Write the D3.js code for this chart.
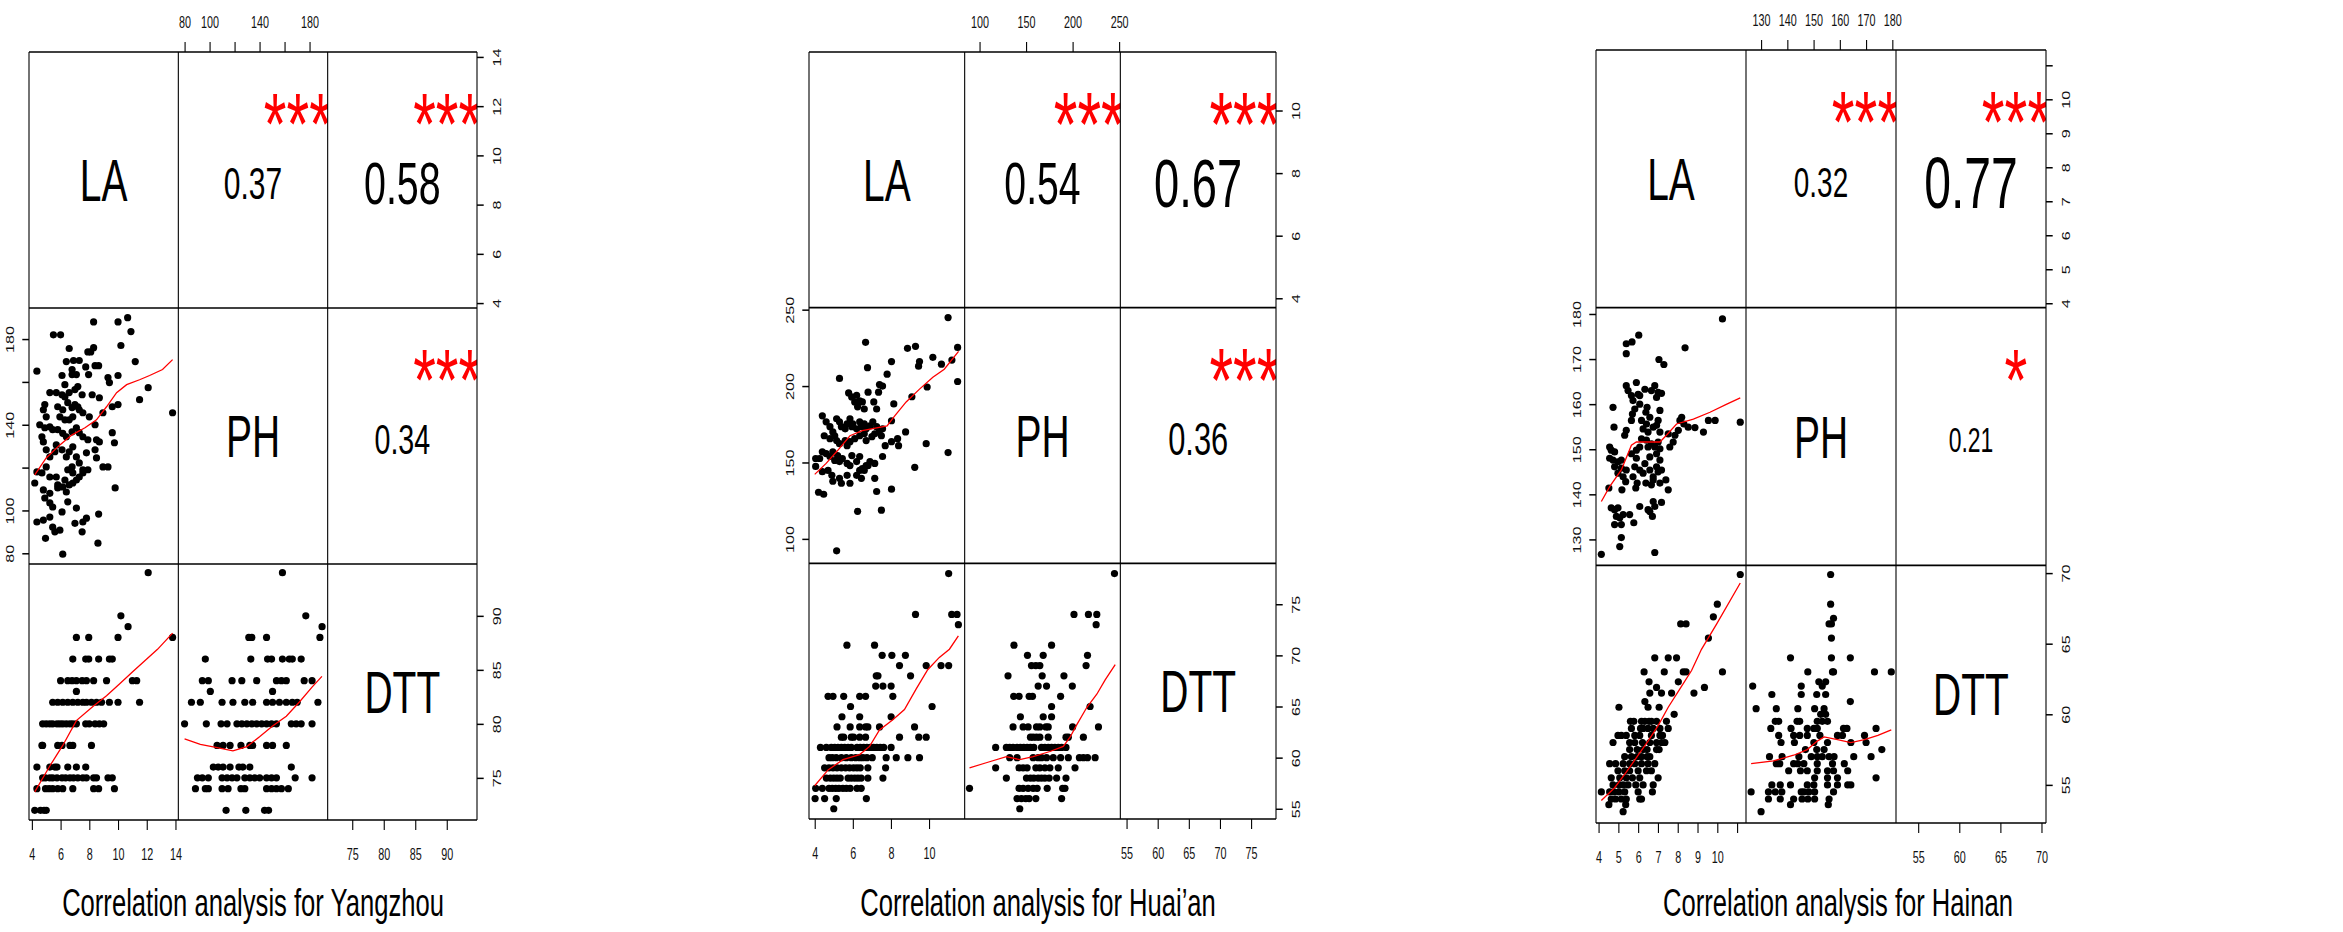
<!DOCTYPE html>
<html>
<head>
<meta charset="utf-8">
<script src="https://cdn.jsdelivr.net/npm/d3@7"></script>
<style>
  body { margin: 0; background: #fff; }
  svg { display: block; }
</style>
</head>
<body>
<svg id="chart" width="2343" height="932"></svg>
<script>
const varNames = ['LA', 'PH', 'DTT'];
const siteNames = ['Yangzhou', 'Huai\u2019an', 'Hainan'];

// axis limits per variable (LA, PH, DTT)
const yangzhouLimits = [[3.8, 14.2], [75, 194.5], [71.1, 94.8]];
const huaianLimits = [[3.7, 11.87], [84, 251.3], [54, 79]];
const hainanLimits = [[3.87, 11.45], [124.25, 181.4], [52.3, 70.55]];

const yangzhouTicks = [[4, 6, 8, 10, 12, 14], [80, 100, 120, 140, 160, 180], [75, 80, 85, 90]];
const huaianTicks = [[4, 6, 8, 10], [100, 150, 200, 250], [55, 60, 65, 70, 75]];
const hainanTicks = [[4, 5, 6, 7, 8, 9, 10, 11], [130, 140, 150, 160, 170, 180], [55, 60, 65, 70]];

// ticks that are drawn without a label
const yangzhouHidden = [120, 160];
const huaianHidden = [];
const hainanHidden = [11];

// |r| and significance for LA-PH, LA-DTT, PH-DTT
const yangzhouR = [0.37, 0.58, 0.34];
const yangzhouStars = ['***', '***', '***'];
const huaianR = [0.54, 0.67, 0.36];
const huaianStars = ['***', '***', '***'];
const hainanR = [0.32, 0.77, 0.21];
const hainanStars = ['***', '***', '*'];

// ---- Yangzhou ----
// [LA, PH]
const yangzhouLaPh = [
  [10.67, 190], [10.0, 188], [8.3, 188], [10.9, 183.5], [5.5, 182], [6.0, 182], [6.6, 175.6], [10.2, 177],
  [8.3, 176], [7.9, 174], [8.1, 174], [11.2, 169.5], [6.4, 169.5], [6.9, 170], [7.3, 170], [8.4, 167.6],
  [8.65, 167.6], [7.75, 167], [6.8, 165.8], [4.35, 165],
  [6.1, 163], [6.8, 163.4], [7.1, 163.4], [7.95, 163.4], [9.3, 162], [9.4, 159.7], [10, 163], [6.3, 158.7],
  [7.2, 157.8], [7.0, 156.4], [5.25, 155], [5.7, 155], [6.1, 154], [6.3, 153], [6.6, 155], [7.5, 154],
  [8.2, 154], [8.7, 152.6], [11.5, 151.7], [12.1, 157.3], [13.8, 145.6],
  [4.9, 149.4], [4.8, 147], [5.0, 143.7], [5.8, 148.4], [6.15, 147], [6.5, 150.3], [6.8, 148], [7.0, 149.4],
  [7.2, 148.4], [7.3, 147],
  [5.95, 143.7], [6.3, 142.3], [6.6, 142.3], [6.85, 143.7], [7.55, 145.6], [8.0, 143.7], [8.95, 145.6],
  [9.6, 148.4], [10, 149.4],
  [4.55, 140], [4.9, 138.6], [5.25, 139], [5.45, 137.7], [5.8, 137.7], [6.15, 136], [6.4, 134.4], [6.8, 136.7],
  [7.1, 138.6], [7.3, 136.3], [7.55, 134.4], [7.9, 133], [8.5, 133], [8.7, 132], [8.4, 140], [9.6, 136.3],
  [9.75, 131.6],
  [4.7, 134.4], [4.8, 132], [5.0, 128.3], [5.25, 125], [5.6, 127.4], [5.7, 130.6], [6.1, 128.3], [6.4, 125],
  [6.6, 127.4], [6.85, 129.7], [7.1, 125], [7.3, 122.2], [7.55, 119], [7.8, 126.9], [7.9, 119], [8.4, 128.3],
  [8.5, 124.5], [8.95, 120.3], [9.3, 120.3],
  [4.35, 118], [4.7, 117.5], [5.0, 120.3], [5.25, 115.6], [5.7, 115.6], [5.8, 111.9], [6.3, 114.2], [6.5, 119],
  [6.8, 120.3], [6.85, 117.5], [7.1, 114.2], [7.3, 115.6], [7.55, 117.5],
  [4.2, 112.8], [4.8, 109.6], [4.9, 105.8], [5.25, 108], [5.25, 103.5], [5.45, 101.6], [5.8, 110.5], [6.15, 111],
  [6.4, 108.6], [6.6, 111.9], [6.85, 112.8], [9.8, 110.5],
  [6.5, 104], [7.1, 101.1], [7.8, 96.4], [7.55, 94.6], [7.5, 90],
  [4.35, 94.6], [4.8, 95.5], [5.25, 96.9], [5.45, 92.2], [5.6, 90], [5.95, 90.8], [6.1, 99.3], [7.0, 94],
  [8.65, 98.3], [4.95, 87], [8.6, 84.7], [6.15, 79.6],
];
// [DTT, [LA, ...]]
const yangzhouLaDtt = [
  [94, [12.1]], [90, [10.2]], [89, [10.7]], [88, [7.1, 7.96, 10.0, 13.8]],
  [86, [6.85, 7.75, 7.96, 8.65, 9.4, 9.6]],
  [84, [6.0, 6.5, 6.8, 7.1, 7.5, 7.8, 8.3, 9.2, 11.0, 11.3]],
  [83, [7.1]],
  [82, [5.45, 5.8, 6.15, 6.5, 6.85, 7.2, 7.55, 7.8, 8.15, 8.5, 8.85, 9.4, 10.0, 11.5]],
  [80, [4.75, 5.0, 5.25, 5.45, 5.75, 5.95, 6.15, 6.4, 6.65, 6.85, 7.1, 7.75, 8.0, 8.4, 8.7, 9.0]],
  [78, [4.7, 4.75, 5.8, 6.1, 6.65, 6.85, 8.15]],
  [76, [4.35, 5.25, 5.6, 5.75, 6.5, 7.1, 7.75]],
  [75, [4.75, 4.95, 5.25, 5.45, 5.75, 6.1, 6.35, 6.65, 6.9, 7.2, 7.55, 7.8, 8.3, 8.5, 9.3, 9.6]],
  [74, [4.35, 4.95, 5.2, 5.45, 5.8, 6.15, 6.85, 8.3, 8.65, 9.75]],
  [72, [4.2, 4.6, 4.85, 5.0]],
];
// [DTT, [PH, ...]]
const yangzhouPhDtt = [
  [94, [158.3]], [90, [177]], [89, [190]], [88, [131.4, 133.8, 145.6, 188.3]],
  [86, [96.6, 133, 146.4, 149.6, 158.3, 163.8, 166.2, 173.3]],
  [84, [94.2, 99, 118, 125.8, 137.7, 153.5, 157.5, 161.4, 175.7, 182]],
  [83, [100.6, 150.4]],
  [82, [85.5, 92.6, 110, 118.7, 128.2, 134.5, 145.6, 150.4, 155.9, 161.4, 166.2, 170.1, 186.7]],
  [80, [80, 97.4, 109.2, 114, 121.9, 125.8, 129.8, 133.8, 137.7, 141.7, 145.6, 149.6, 153.5, 165.4, 169.3, 173.3, 182]],
  [78, [106, 110.8, 116.4, 125.1, 132.2, 134.5, 145.6, 150.4, 161.4]],
  [76, [103, 106.9, 110.8, 116.4, 123.5, 126.6, 132.2, 165.4]],
  [75, [90.3, 94.2, 99, 110, 114, 118, 121.9, 128.2, 132.2, 136.1, 140.1, 145.6, 149.6, 153.5, 168.5, 182]],
  [74, [88.7, 96.6, 99, 110, 114.8, 125.1, 128.2, 145.6, 149.6, 153.5, 157.5, 163]],
  [72, [113.2, 129, 144, 147.2]],
];
// smoothed (lowess) curves as drawn in red
const yangzhouLaPhFit = [[4.2, 116.6], [5.0, 124.5], [5.95, 130.6], [6.8, 135.3], [7.7, 138.6], [8.5, 142.3],
  [9.2, 148.4], [9.9, 155], [10.6, 158.7], [11.5, 161], [12.2, 163], [13.1, 165.8], [13.8, 170.4]];
const yangzhouLaDttFit = [[4.2, 73.7], [5.25, 76.1], [6.15, 78], [7.1, 80.3], [8.25, 81.6], [9.2, 82.6],
  [10.1, 83.7], [11.0, 84.8], [12.0, 86], [12.75, 86.9], [13.8, 88.4]];
const yangzhouPhDttFit = [[80, 78.6], [92.6, 78.1], [106, 77.8], [118.7, 77.5], [129.8, 77.9], [140, 78.8],
  [150.4, 79.8], [161.4, 80.7], [171.7, 82], [182, 83.4], [189.9, 84.4]];

// ---- Huai'an ----
const huaianLaPh = [
  [11.0, 244.8], [6.67, 228.6], [6.77, 212], [8.87, 224.7], [9.29, 226], [8.03, 216], [9.5, 216], [9.45, 213],
  [10.2, 218.8], [10.65, 214.3], [11.2, 217], [11.5, 225.3], [7.8, 207.8], [5.3, 205],
  [11.5, 203], [5.78, 195.5], [5.94, 192.9], [6.2, 194], [6.36, 190.3], [6.5, 189.6], [6.1, 189.6], [6.25, 186.4],
  [6.6, 185], [6.8, 196], [7.1, 189.6], [7.4, 201], [7.56, 200], [7.35, 196], [7.25, 185], [9.1, 193],
  [9.9, 199.4], [8.15, 188.3], [8.03, 177.3], [8.77, 170],
  [4.4, 180.5], [4.6, 176.6], [4.8, 173.4], [4.95, 170], [5.15, 178.6], [5.3, 176.6], [5.4, 173.4], [5.6, 172],
  [5.7, 175.3], [5.85, 178.6], [5.95, 173.4], [6.0, 175.3], [6.2, 172], [6.36, 176.6], [6.45, 173.4],
  [6.6, 175.3], [6.7, 172], [6.9, 174], [7.05, 176.6], [7.25, 173.4], [7.4, 170.8], [7.56, 172], [7.5, 167.5],
  [4.5, 167.5], [4.8, 165.6], [5.05, 167.5], [5.15, 164.3], [5.3, 162.3], [5.6, 164.3], [5.7, 161], [5.85, 163.6],
  [6.1, 165.6], [6.36, 167.5], [6.6, 168.8], [6.7, 164.3], [7.0, 166.9], [7.15, 168.8], [7.7, 161], [8.35, 165.6],
  [8.4, 161], [8.03, 163.6], [9.85, 162.3], [11.0, 156.5],
  [4.05, 152.6], [4.05, 147.4], [4.26, 152.6], [4.4, 157], [4.6, 155.8], [4.8, 153.9], [4.95, 157], [5.05, 151.3],
  [5.2, 154.5], [5.3, 150.6], [5.45, 152.6], [5.7, 149.4], [5.85, 148], [5.95, 154.5], [6.2, 150.6],
  [6.36, 153.9], [6.5, 146], [6.7, 148], [6.9, 150.6], [7.15, 149.4], [7.56, 153.9], [9.25, 146.8],
  [4.4, 144], [4.7, 144.8], [4.9, 141.6], [4.95, 137.7], [5.3, 139.6], [5.4, 136.4], [5.7, 141.6], [5.85, 136.4],
  [6.2, 141.6], [6.36, 144.8], [6.45, 139.6], [6.6, 144.8], [6.8, 148], [7.15, 139.6], [7.25, 131], [8.03, 132.5],
  [4.2, 130.5], [4.47, 129.2], [6.25, 118], [7.5, 118.8], [5.15, 92.2],
];
const huaianLaDtt = [
  [78, [11.03]], [74, [9.29, 11.19, 11.47]], [73, [11.54]], [71, [5.69, 7.14]], [70, [7.54, 8.05, 8.76]],
  [69, [8.45, 9.85, 10.63, 11.03]], [68, [7.23, 7.32, 9.03]], [67, [7.2, 7.58, 8.01]],
  [66, [4.7, 4.96, 5.52, 6.36, 6.67, 8.1]], [65, [5.88, 10.16]], [64, [5.43, 6.36, 8.01]],
  [63, [5.17, 5.86, 6.36, 6.67, 6.79, 7.4, 9.24]],
  [62, [5.4, 5.52, 5.92, 6.04, 6.36, 6.67, 8.45, 9.46, 9.85]],
  [61, [4.3, 4.61, 4.87, 5.05, 5.22, 5.4, 5.57, 5.75, 5.92, 6.22, 6.39, 6.57, 6.74, 6.92, 7.09, 7.26, 7.44, 7.62, 8.01]],
  [60, [4.75, 4.92, 5.13, 5.4, 5.66, 5.92, 6.15, 6.36, 6.53, 6.74, 7.02, 7.75, 8.28, 8.89, 9.5]],
  [59, [4.52, 4.75, 4.96, 5.17, 5.4, 5.62, 5.83, 6.04, 6.22, 6.39, 6.79, 7.72]],
  [58, [4.61, 4.82, 5.0, 5.17, 5.34, 5.75, 5.92, 6.1, 6.27, 6.44, 6.79, 7.58]],
  [57, [4.05, 4.4, 4.75, 4.92, 5.1, 5.27, 5.48, 5.66, 5.86, 6.22, 6.44]],
  [56, [4.02, 4.52, 5.13, 6.71]], [55, [5.0]],
];
const huaianPhDtt = [
  [78, [245]], [74, [201.5, 217, 226]], [73, [225.3]], [71, [137, 177.4]], [70, [151.5, 168.4, 216]],
  [69, [155.8, 160.5, 164.8, 214.5]], [68, [130.6, 167.3, 190.7]], [67, [163, 172, 199.7]],
  [66, [136.7, 142.5, 153.3, 156.9, 187.1]], [65, [177.4, 218.8]], [64, [143.9, 168.4, 177.4]],
  [63, [136, 146.8, 152.2, 161.2, 164.8, 171.3, 173.8, 200, 227.8]],
  [62, [154.7, 157.6, 161.2, 164.8, 173.8, 192.9, 195.4, 211.6]],
  [61, [117.3, 128.8, 132.4, 136, 140.3, 143.9, 147.5, 151.1, 154.7, 158.3, 166.6, 170.2, 173.8, 177.4, 181, 184.6, 188.2, 192.9]],
  [60, [132.4, 140.3, 157.6, 163, 166.6, 172, 179.2, 187.1, 195.4, 207.3, 211.6, 216, 224.2]],
  [59, [117.3, 142.5, 146.8, 151.1, 160.5, 164.8, 170.2, 175.6, 184.6, 202.6]],
  [58, [128.8, 150.4, 154.7, 158.3, 163, 166.6, 170.2, 174.8, 182.8, 192.9]],
  [57, [89.2, 142.5, 146.8, 152.2, 157.6, 161.9, 172.7, 189.3, 191.8]],
  [56, [140.3, 145, 149.7, 153.3, 160.5, 188.2]], [55, [143.2]],
];
const huaianLaPhFit = [[4.0, 142.2], [4.6, 149.4], [5.2, 157.8], [5.85, 167.5], [6.5, 170.8], [7.25, 172.7],
  [7.8, 174], [8.2, 180.5], [8.8, 189.6], [9.5, 198], [10.2, 205.8], [10.8, 211], [11.55, 222.7]];
const huaianLaDttFit = [[4.0, 57.25], [4.7, 58.8], [5.48, 59.8], [6.36, 60.3], [6.88, 61.1], [7.4, 62.7],
  [8.1, 63.7], [8.71, 64.7], [9.32, 66.7], [9.93, 68.6], [10.54, 69.8], [11.07, 70.6], [11.54, 71.9]];
const huaianPhDttFit = [[89.2, 59], [107.2, 59.5], [128.8, 60.1], [143.2, 59.8], [157.6, 60.1], [175.6, 60.6],
  [190, 61.1], [197.2, 62], [204.4, 63.2], [215.2, 64.9], [226, 66.2], [235, 67.6], [245.8, 69.1]];

// ---- Hainan ----
const hainanLaPh = [
  [10.26, 178.9], [6.03, 175.3], [5.4, 173.4], [5.69, 173.8], [5.4, 171.2], [8.37, 172.5], [7.05, 169.9], [7.3, 168.8],
  [5.4, 164.1], [5.49, 163], [5.66, 161.9], [5.74, 160.8], [5.91, 164.8], [6.0, 162.2], [6.08, 160], [5.83, 158.9],
  [5.71, 157.8], [5.66, 156.4], [5.4, 154.2], [5.32, 153.1],
  [6.08, 161.9], [6.34, 163.3], [6.45, 159.3], [6.39, 158.2], [6.17, 156.4], [6.25, 154.5], [6.42, 155.6],
  [6.59, 157.1], [6.5, 153.8], [6.76, 154.9], [6.67, 163], [6.84, 164.1], [6.93, 161.5], [7.01, 162.6],
  [7.18, 162.4], [7.1, 158.6], [7.01, 156.4], [6.93, 155.3], [7.1, 153.8],
  [4.73, 159.3], [4.78, 154.9],
  [4.56, 150.5], [4.64, 149.8], [4.81, 149.4], [4.56, 148], [4.73, 147.6], [4.98, 147.2], [5.15, 147.6],
  [4.81, 146.1], [5.15, 145.8], [5.24, 143.9], [4.98, 144.7], [5.37, 142.8], [5.4, 145.4],
  [5.66, 149], [5.91, 149.8], [6.08, 150.5], [6.17, 152.3], [6.42, 152], [6.5, 150.5], [6.67, 151.2],
  [6.84, 150.5], [7.01, 151.6], [7.1, 150.1], [6.93, 149], [6.59, 148.3], [6.34, 146.8],
  [5.91, 148], [5.83, 146.1], [6.08, 145.4], [5.74, 143.9], [5.95, 142.5], [6.25, 144.7], [6.39, 142.5],
  [6.59, 145.4], [6.76, 143.9], [6.93, 146.1], [7.01, 145], [7.1, 147.6], [7.18, 145.4], [6.76, 143.2],
  [6.67, 142.1], [6.76, 138.4], [6.84, 137.3], [6.72, 135.1],
  [6.08, 137.3], [6.5, 136.6], [6.59, 136.2],
  [4.64, 137], [4.81, 136.6], [4.98, 137], [4.9, 135.1], [5.07, 134.8], [4.81, 133.3], [5.15, 133.3],
  [5.24, 135.5], [5.57, 135.5], [5.78, 133.7], [5.15, 130.4], [5.07, 128.4],
  [4.52, 141.4], [5.18, 141], [5.88, 141.4], [7.1, 142.5], [7.4, 143.2], [7.18, 138.2],
  [7.52, 153.4], [7.6, 150.5], [7.77, 151.6], [7.86, 153.1], [8.03, 154.2], [8.11, 156.4], [8.2, 157.1],
  [8.31, 155.6], [8.53, 154.9], [8.87, 154.8], [9.3, 153.8], [9.55, 156.4], [9.89, 156.4], [11.16, 156],
  [7.52, 141], [4.14, 126.7], [6.84, 127.1],
];
const hainanLaDtt = [
  [69.9, [11.16]], [67.8, [10.0]], [66.9, [9.8]], [66.4, [8.15, 8.42]], [65.4, [9.55]], [64, [6.84, 7.52, 7.94]],
  [63, [6.3, 7.32, 8.28, 8.42, 10.26]], [62.3, [6.55, 8.03]], [61.9, [6.93, 9.35]], [61.5, [6.59, 7.18, 7.69, 8.82]],
  [60.9, [6.34]], [60.5, [5.03, 6.5, 7.06]], [60, [7.82]],
  [59.5, [5.61, 5.78, 6.17, 6.34, 6.55, 6.67, 6.93, 7.43]],
  [59, [5.66, 6.12, 6.25, 6.5, 6.76, 7.1, 7.52]],
  [58.5, [4.98, 5.15, 5.4, 5.83, 6.08, 6.67, 7.1, 7.23]],
  [58, [4.73, 5.57, 5.83, 6.22, 6.59, 6.93, 7.18, 7.35]],
  [57.5, [5.57, 5.95, 6.25, 6.45, 6.93, 7.06]],
  [57, [5.32, 5.66, 5.95, 6.17, 6.45, 6.59]],
  [56.5, [4.56, 4.86, 5.24, 5.57, 5.83, 6.17, 6.5, 6.84]],
  [56, [4.98, 5.32, 5.57, 6.0, 6.42, 6.67]],
  [55.5, [4.64, 5.07, 5.4, 5.71, 6.08, 7.01]],
  [55, [4.73, 5.03, 5.24, 5.49, 5.88, 6.25, 6.76]],
  [54.5, [4.14, 4.56, 4.78, 5.03, 5.32, 6.0, 6.72]],
  [54, [4.64, 4.86, 5.15, 5.4, 6.08, 6.17]],
  [53.6, [4.52, 5.37]], [53.1, [5.24]],
];
const hainanPhDtt = [
  [69.9, [156.5]], [67.8, [156.5]], [66.8, [157.6]], [66.4, [155.9, 156.8]], [65.4, [156.8]],
  [64, [141.2, 156.8, 164]], [63, [147.8, 157.2, 157.6, 173.2, 179.6]], [62.3, [152, 154.6]],
  [62, [126.8, 145.3, 153.3]], [61.4, [134.1, 145.3, 151.2, 154.6]], [60.9, [164]],
  [60.4, [128.1, 135.8, 144, 150.4, 154]], [60, [152.7, 154.6]],
  [59.5, [135.4, 136.7, 143.7, 144.7, 151.4, 153.3, 155.3]],
  [59, [133.7, 141.4, 147.6, 150.1, 151.4, 161.4, 162.7, 173.8]],
  [58.5, [136.7, 142.4, 144.7, 147.6, 152.4, 159.1, 161, 169.4]],
  [58, [137.6, 142.7, 150.1, 155.3, 164.2, 170]],
  [57.5, [146.9, 151.2, 154, 176]],
  [57, [133.2, 138, 144.4, 149.1, 151.4, 153.3, 155.9, 157.8, 165.3, 171.9]],
  [56.5, [135.8, 137.1, 142.4, 144, 146.3, 151.4, 157.2, 161.7]],
  [56, [140.5, 145, 147.6, 151.4, 155.3, 157.6, 163]],
  [55.5, [150.4, 155.3, 159.1, 173.8]],
  [55, [134.1, 137.3, 141.2, 147.6, 150.1, 155.3, 159.1, 163, 164.2]],
  [54.5, [126.2, 132.8, 135.4, 137.9, 145.3, 146.3, 148.2, 150.4, 157.6]],
  [54, [132.8, 137.3, 142.4, 145.6, 147.8, 150.4, 155.9]],
  [53.6, [141.2, 155.6]], [53.1, [130]],
];
const hainanLaPhFit = [[4.14, 138.4], [4.56, 141.7], [5.15, 145.4], [5.66, 150.9], [5.91, 151.6], [7.1, 151.6],
  [7.43, 153.1], [7.94, 155.6], [8.79, 156.7], [9.63, 158.2], [10.48, 160], [11.16, 161.4]];
const hainanLaDttFit = [[4.14, 53.9], [4.81, 54.8], [5.4, 55.9], [6.0, 57.1], [6.5, 58.1], [7.01, 59.2],
  [7.52, 60.5], [8.11, 61.8], [8.7, 63.1], [9.2, 64.6], [9.97, 66.4], [11.16, 69.3]];
const hainanPhDttFit = [[126.2, 56.5], [134.7, 56.7], [142.4, 57.1], [147.6, 57.5], [151.4, 58.1], [154, 58.4],
  [159.1, 58.2], [164.2, 58], [169.4, 58.2], [174.5, 58.5], [179.6, 58.9]];

// ---------------------------------------------------------------
const SY = 1.5; // the source image is stretched vertically, text too
const FONT = '"Liberation Sans", Arial, Helvetica, sans-serif';
const PAIRS = [[0, 1], [0, 2], [1, 2]];

// panel frames in page pixels
const layout = [
  { x0: 29, x1: 477, y0: 52, y1: 820, titleX: 253 },
  { x0: 809, x1: 1276, y0: 52, y1: 819, titleX: 1038 },
  { x0: 1596, x1: 2046, y0: 50, y1: 823, titleX: 1838 },
];

function byLevel(levels) {
  return levels.flatMap(([y, xs]) => xs.map((x) => [x, y]));
}

const sites = [
  {
    limits: yangzhouLimits, ticks: yangzhouTicks, hidden: yangzhouHidden, r: yangzhouR, stars: yangzhouStars,
    scatter: [yangzhouLaPh, byLevel(yangzhouLaDtt), byLevel(yangzhouPhDtt)],
    fits: [yangzhouLaPhFit, yangzhouLaDttFit, yangzhouPhDttFit],
  },
  {
    limits: huaianLimits, ticks: huaianTicks, hidden: huaianHidden, r: huaianR, stars: huaianStars,
    scatter: [huaianLaPh, byLevel(huaianLaDtt), byLevel(huaianPhDtt)],
    fits: [huaianLaPhFit, huaianLaDttFit, huaianPhDttFit],
  },
  {
    limits: hainanLimits, ticks: hainanTicks, hidden: hainanHidden, r: hainanR, stars: hainanStars,
    scatter: [hainanLaPh, byLevel(hainanLaDtt), byLevel(hainanPhDtt)],
    fits: [hainanLaPhFit, hainanLaDttFit, hainanPhDttFit],
  },
];

const svg = d3.select('#chart');
const defs = svg.append('defs');

// text whose glyph centre sits at (x, y), stretched like the source
function stretchedText(parent, x, y, str, size, centre = 0.36) {
  return parent.append('text')
    .attr('transform', `translate(${x},${y}) scale(1,${SY})`)
    .attr('y', centre * size)
    .attr('text-anchor', 'middle')
    .attr('font-family', FONT)
    .attr('font-size', size)
    .text(str);
}

function styleAxis(g, side, fs) {
  const vertical = side === 'top' || side === 'bottom';
  const shift = { top: [0, -30], bottom: [0, 34], left: [-19, 0], right: [20, 0] }[side];
  g.select('.domain').remove();
  g.attr('font-family', FONT).attr('font-size', fs);
  g.selectAll('.tick line').attr('stroke', '#000').attr('stroke-width', vertical ? 1.1 : 1.5);
  g.selectAll('.tick text')
    .attr('fill', '#111')
    .attr('x', null)
    .attr('dy', null)
    .attr('y', 0.36 * fs)
    .attr('text-anchor', 'middle')
    .attr('transform', `translate(${shift[0]},${shift[1]}) scale(1,${SY})${vertical ? '' : ' rotate(-90)'}`);
}

sites.forEach((site, p) => {
  const box = layout[p];
  const cellW = (box.x1 - box.x0) / 3;
  const cellH = (box.y1 - box.y0) / 3;
  const colX = (j) => box.x0 + j * cellW;
  const rowY = (i) => box.y0 + i * cellH;
  const xScales = site.limits.map((lim, j) => d3.scaleLinear().domain(lim).range([colX(j), colX(j) + cellW]));
  const yScales = site.limits.map((lim, i) => d3.scaleLinear().domain(lim).range([rowY(i) + cellH, rowY(i)]));
  const fullSize = 0.39 * cellW; // cex that makes "0.xx" fill 80% of a cell
  const panel = svg.append('g');
  const fmt = (v) => (site.hidden.includes(v) ? '' : String(v));

  for (let i = 0; i < 3; i += 1) {
    for (let j = 0; j < 3; j += 1) {
      const clipId = `clip-${p}-${i}-${j}`;
      defs.append('clipPath').attr('id', clipId)
        .append('rect')
        .attr('x', colX(j)).attr('y', rowY(i))
        .attr('width', cellW).attr('height', cellH);
      const cell = panel.append('g').attr('clip-path', `url(#${clipId})`);
      const cx = colX(j) + cellW / 2;
      const cy = rowY(i) + cellH / 2;

      if (i === j) {
        stretchedText(cell, cx, cy, varNames[i], 39);
      } else if (i < j) {
        const k = PAIRS.findIndex(([a, b]) => a === i && b === j);
        const r = site.r[k];
        stretchedText(cell, cx, cy + 3, d3.format('.2f')(r), fullSize * (r + 0.3) / 1.3);
        stretchedText(cell, colX(j) + 0.8 * cellW, rowY(i) + 0.2 * cellH, site.stars[k], fullSize, 0.58)
          .attr('fill', '#ff0000');
      } else {
        const k = PAIRS.findIndex(([a, b]) => a === j && b === i);
        const x = xScales[j];
        const y = yScales[i];
        cell.selectAll('circle')
          .data(site.scatter[k])
          .join('circle')
          .attr('cx', (d) => x(d[0]))
          .attr('cy', (d) => y(d[1]))
          .attr('r', 3.6)
          .attr('fill', '#000');
        cell.append('path')
          .datum(site.fits[k])
          .attr('fill', 'none')
          .attr('stroke', '#ff0000')
          .attr('stroke-width', 1.3)
          .attr('d', d3.line().x((d) => x(d[0])).y((d) => y(d[1])));
      }
    }
  }

  // cell borders: horizontal lines look heavier after the stretch
  const frame = panel.append('g').attr('stroke', '#000');
  d3.range(4).forEach((n) => {
    frame.append('line')
      .attr('x1', box.x0).attr('x2', box.x1)
      .attr('y1', rowY(n)).attr('y2', rowY(n))
      .attr('stroke-width', 1.6);
    frame.append('line')
      .attr('x1', colX(n)).attr('x2', colX(n))
      .attr('y1', box.y0).attr('y2', box.y1)
      .attr('stroke-width', 1.1);
  });

  // axes alternate sides, as in pairs()
  for (let j = 0; j < 3; j += 1) {
    const side = j === 1 ? 'top' : 'bottom';
    const axis = (side === 'top' ? d3.axisTop : d3.axisBottom)(xScales[j])
      .tickValues(site.ticks[j]).tickFormat(fmt).tickSize(10);
    panel.append('g')
      .attr('transform', `translate(0,${side === 'top' ? box.y0 : box.y1})`)
      .call(axis)
      .call((g) => styleAxis(g, side, 10.8));
  }
  for (let i = 0; i < 3; i += 1) {
    const side = i === 1 ? 'left' : 'right';
    const axis = (side === 'left' ? d3.axisLeft : d3.axisRight)(yScales[i])
      .tickValues(site.ticks[i]).tickFormat(fmt).tickSize(6.7);
    panel.append('g')
      .attr('transform', `translate(${side === 'left' ? box.x0 : box.x1},0)`)
      .call(axis)
      .call((g) => styleAxis(g, side, 10.8));
  }

  stretchedText(panel, box.titleX, 902, `Correlation analysis for ${siteNames[p]}`, 25.6);
});
</script>
</body>
</html>
